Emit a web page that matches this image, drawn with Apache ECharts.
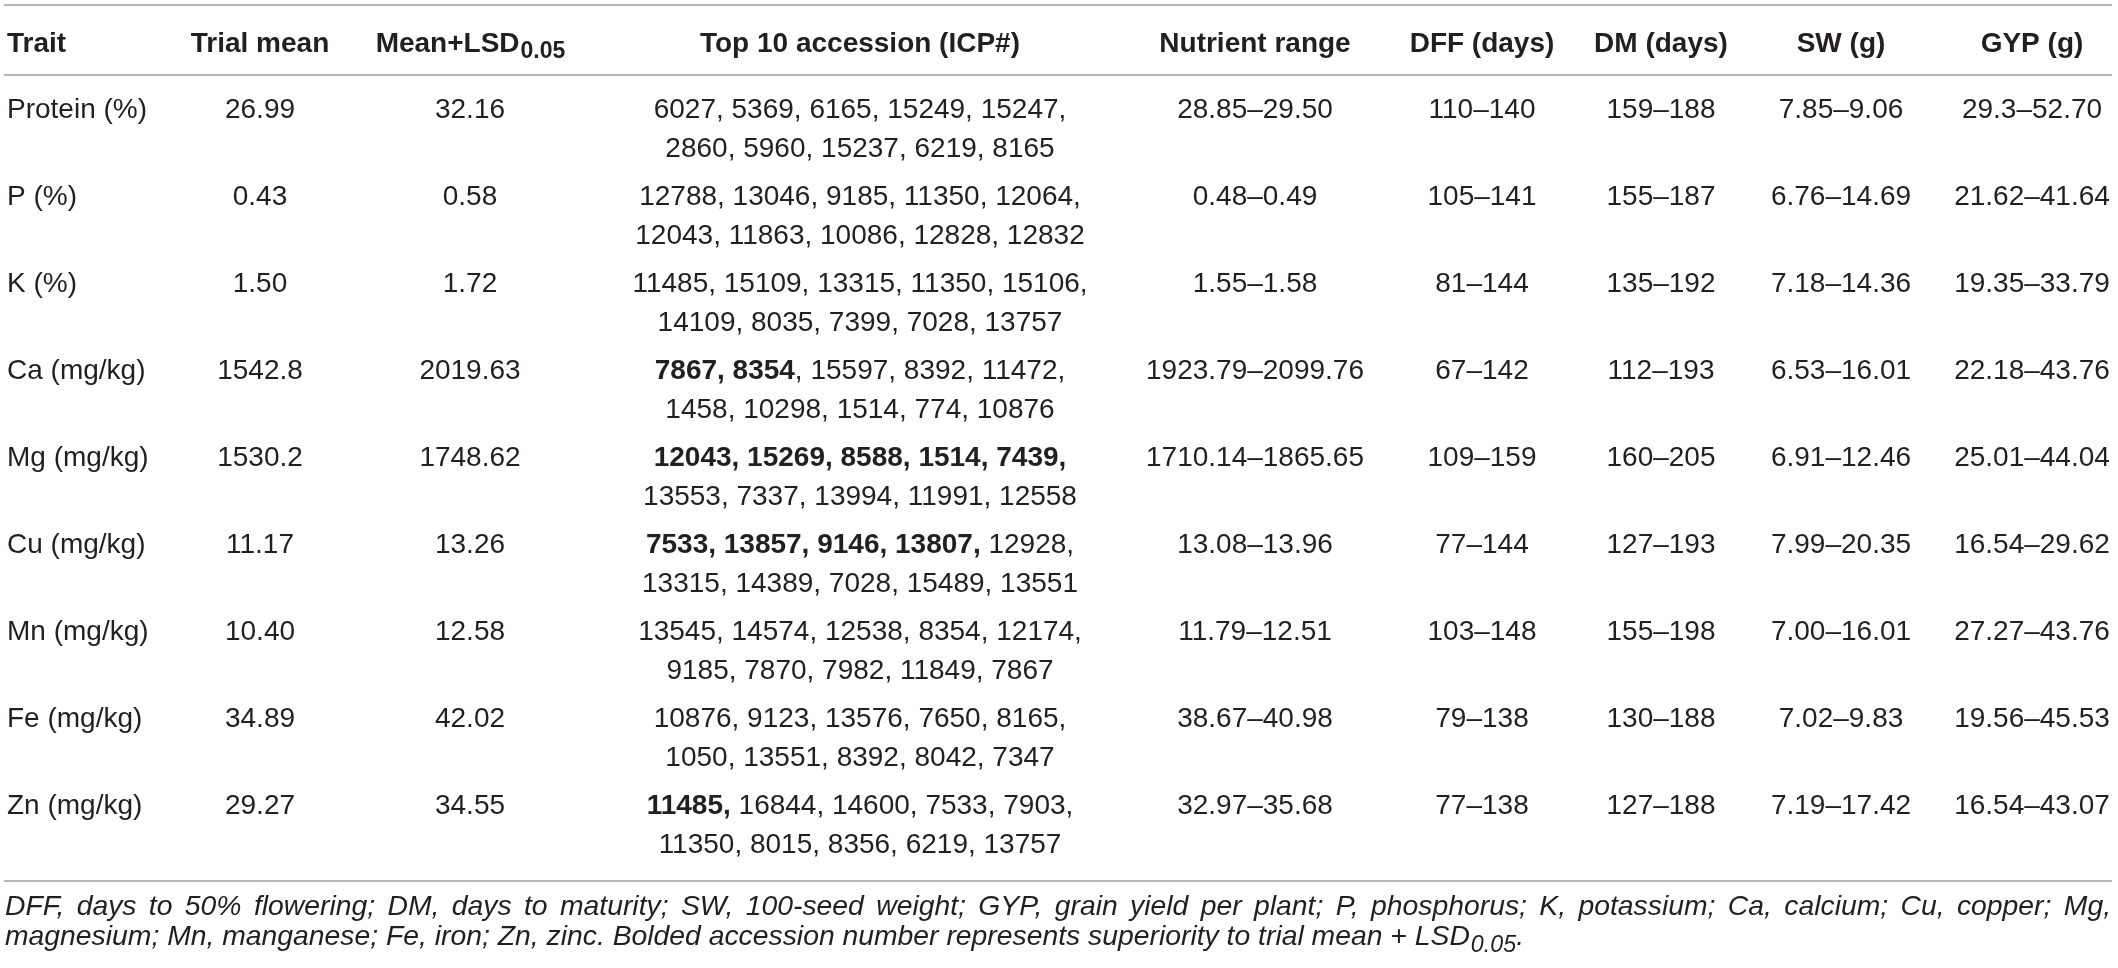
<!DOCTYPE html>
<html><head><meta charset="utf-8">
<script src="https://cdn.jsdelivr.net/npm/echarts@6/dist/echarts.min.js"></script>
<style>html,body{margin:0;padding:0;background:#fff}#c{width:2118px;height:968px}</style>
</head><body><div id="c"></div>
<script>
// ---- data ----
const headers = ['Trait', 'Trial mean', 'Mean+LSD', 'Top 10 accession (ICP#)', 'Nutrient range', 'DFF (days)', 'DM (days)', 'SW (g)', 'GYP (g)'];
const headerSub = ['', '', '0.05', '', '', '', '', '', ''];
const traits = ['Protein (%)', 'P (%)', 'K (%)', 'Ca (mg/kg)', 'Mg (mg/kg)', 'Cu (mg/kg)', 'Mn (mg/kg)', 'Fe (mg/kg)', 'Zn (mg/kg)'];
const trialMean = ['26.99', '0.43', '1.50', '1542.8', '1530.2', '11.17', '10.40', '34.89', '29.27'];
const meanLSD = ['32.16', '0.58', '1.72', '2019.63', '1748.62', '13.26', '12.58', '42.02', '34.55'];
const accLine1 = [
  '6027, 5369, 6165, 15249, 15247,',
  '12788, 13046, 9185, 11350, 12064,',
  '11485, 15109, 13315, 11350, 15106,',
  '7867, 8354, 15597, 8392, 11472,',
  '12043, 15269, 8588, 1514, 7439,',
  '7533, 13857, 9146, 13807, 12928,',
  '13545, 14574, 12538, 8354, 12174,',
  '10876, 9123, 13576, 7650, 8165,',
  '11485, 16844, 14600, 7533, 7903,'
];
const accBold = ['', '', '', '7867, 8354', '12043, 15269, 8588, 1514, 7439,', '7533, 13857, 9146, 13807,', '', '', '11485,'];
const accLine2 = [
  '2860, 5960, 15237, 6219, 8165',
  '12043, 11863, 10086, 12828, 12832',
  '14109, 8035, 7399, 7028, 13757',
  '1458, 10298, 1514, 774, 10876',
  '13553, 7337, 13994, 11991, 12558',
  '13315, 14389, 7028, 15489, 13551',
  '9185, 7870, 7982, 11849, 7867',
  '1050, 13551, 8392, 8042, 7347',
  '11350, 8015, 8356, 6219, 13757'
];
const nutrientRange = ['28.85–29.50', '0.48–0.49', '1.55–1.58', '1923.79–2099.76', '1710.14–1865.65', '13.08–13.96', '11.79–12.51', '38.67–40.98', '32.97–35.68'];
const dff = ['110–140', '105–141', '81–144', '67–142', '109–159', '77–144', '103–148', '79–138', '77–138'];
const dm = ['159–188', '155–187', '135–192', '112–193', '160–205', '127–193', '155–198', '130–188', '127–188'];
const sw = ['7.85–9.06', '6.76–14.69', '7.18–14.36', '6.53–16.01', '6.91–12.46', '7.99–20.35', '7.00–16.01', '7.02–9.83', '7.19–17.42'];
const gyp = ['29.3–52.70', '21.62–41.64', '19.35–33.79', '22.18–43.76', '25.01–44.04', '16.54–29.62', '27.27–43.76', '19.56–45.53', '16.54–43.07'];
const footLine1 = 'DFF, days to 50% flowering; DM, days to maturity; SW, 100-seed weight; GYP, grain yield per plant; P, phosphorus; K, potassium; Ca, calcium; Cu, copper; Mg,';
const footLine2 = 'magnesium; Mn, manganese; Fe, iron; Zn, zinc. Bolded accession number represents superiority to trial mean + LSD';
const footSub = '0.05';

// ---- layout / style ----
const W = 2118;
const colX = [7, 260, 470, 860, 1255, 1482, 1661, 1841, 2032];
const FF = '"Liberation Sans", Arial, sans-serif';
const INK = '#231f20';
const RULE = '#9c9c9c';
const fBody = '28px ' + FF;
const fBold = 'bold 28px ' + FF;
const fHSub = 'bold 23px ' + FF;
const fFoot = 'italic 28px ' + FF;
const fFootSub = 'italic 23px ' + FF;
const ctx = document.createElement('canvas').getContext('2d');
function tw(t, f) { ctx.font = f; return ctx.measureText(t).width; }

const chart = echarts.init(document.getElementById('c'), null, { renderer: 'canvas' });

const graphic = [];
// rules
[5, 75, 881].forEach(y => graphic.push({ type: 'line', shape: { x1: 4, y1: y, x2: 2112, y2: y }, style: { stroke: RULE, lineWidth: 1.6 } }));
// header
const hy = 44;
headers.forEach((h, k) => {
  if (headerSub[k]) {
    const w1 = tw(h, fBold), w2 = tw(headerSub[k], fHSub);
    const x0 = colX[k] - (w1 + w2) / 2;
    graphic.push({ type: 'text', x: x0, y: hy, style: { text: h, font: fBold, fill: INK, align: 'left', verticalAlign: 'middle' } });
    graphic.push({ type: 'text', x: x0 + w1 + 1, y: hy + 8, style: { text: headerSub[k], font: fHSub, fill: INK, align: 'left', verticalAlign: 'middle' } });
  } else {
    graphic.push({ type: 'text', x: colX[k], y: hy, style: { text: h, font: fBold, fill: INK, align: k === 0 ? 'left' : 'center', verticalAlign: 'middle' } });
  }
});
// footnote: horizontal scale so that line 2 ends where the reference's does
const fx0 = 5, fx1 = 2111, l2End = 1524;
const l2w = tw(footLine2, fFoot), subw = tw(footSub, fFootSub), dotw = tw('.', fFoot);
const sx = (l2End - fx0) / (l2w + 1 + subw + dotw);
// line 1 (justified)
const words = footLine1.split(' ');
const ww = words.map(w => tw(w, fFoot) * sx);
const sumW = ww.reduce((a, b) => a + b, 0);
const gap = (fx1 - fx0 - sumW) / (words.length - 1);
let cx = fx0;
const fy1 = 907, fy2 = 937;
words.forEach((w, i) => {
  graphic.push({ type: 'text', x: cx, y: fy1, scaleX: sx, style: { text: w, font: fFoot, fill: INK, align: 'left', verticalAlign: 'middle' } });
  cx += ww[i] + gap;
});
// line 2
graphic.push({ type: 'text', x: fx0, y: fy2, scaleX: sx, style: { text: footLine2, font: fFoot, fill: INK, align: 'left', verticalAlign: 'middle' } });
graphic.push({ type: 'text', x: fx0 + (l2w + 1) * sx, y: fy2 + 9, scaleX: sx, style: { text: footSub, font: fFootSub, fill: INK, align: 'left', verticalAlign: 'middle' } });
graphic.push({ type: 'text', x: fx0 + (l2w + 1 + subw) * sx, y: fy2, scaleX: sx, style: { text: '.', font: fFoot, fill: INK, align: 'left', verticalAlign: 'middle' } });

const simpleCols = [traits, trialMean, meanLSD, null, nutrientRange, dff, dm, sw, gyp];

chart.setOption({
  animation: false,
  backgroundColor: '#fff',
  grid: { left: 0, right: 0, top: 86.5, bottom: 98.5 },
  xAxis: { type: 'value', min: 0, max: W, show: false },
  yAxis: { type: 'category', data: traits, inverse: true, show: false },
  graphic: graphic,
  series: [{
    type: 'custom',
    data: traits.map((t, i) => [0, i]),
    renderItem: function (params, api) {
      const i = params.dataIndex;
      const yc = api.coord([0, i])[1];
      const y1 = yc - 19.5, y2 = yc + 19.5;
      const children = [];
      simpleCols.forEach((col, k) => {
        if (!col) return;
        const x = api.coord([colX[k], i])[0];
        children.push({ type: 'text', style: { text: col[i], x: x, y: y1, font: fBody, fill: INK, align: k === 0 ? 'left' : 'center', verticalAlign: 'middle' } });
      });
      const xa = api.coord([colX[3], i])[0];
      const b = accBold[i];
      const rest = accLine1[i].slice(b.length);
      let txt;
      if (b && rest) txt = '{b|' + b + '}{r|' + rest + '}';
      else if (b) txt = '{b|' + b + '}';
      else txt = '{r|' + rest + '}';
      children.push({ type: 'text', style: { text: txt, x: xa, y: y1, align: 'center', verticalAlign: 'middle',
        rich: { b: { font: fBold, fill: INK }, r: { font: fBody, fill: INK } } } });
      children.push({ type: 'text', style: { text: accLine2[i], x: xa, y: y2, font: fBody, fill: INK, align: 'center', verticalAlign: 'middle' } });
      return { type: 'group', children: children };
    }
  }]
});
</script>
</body></html>
